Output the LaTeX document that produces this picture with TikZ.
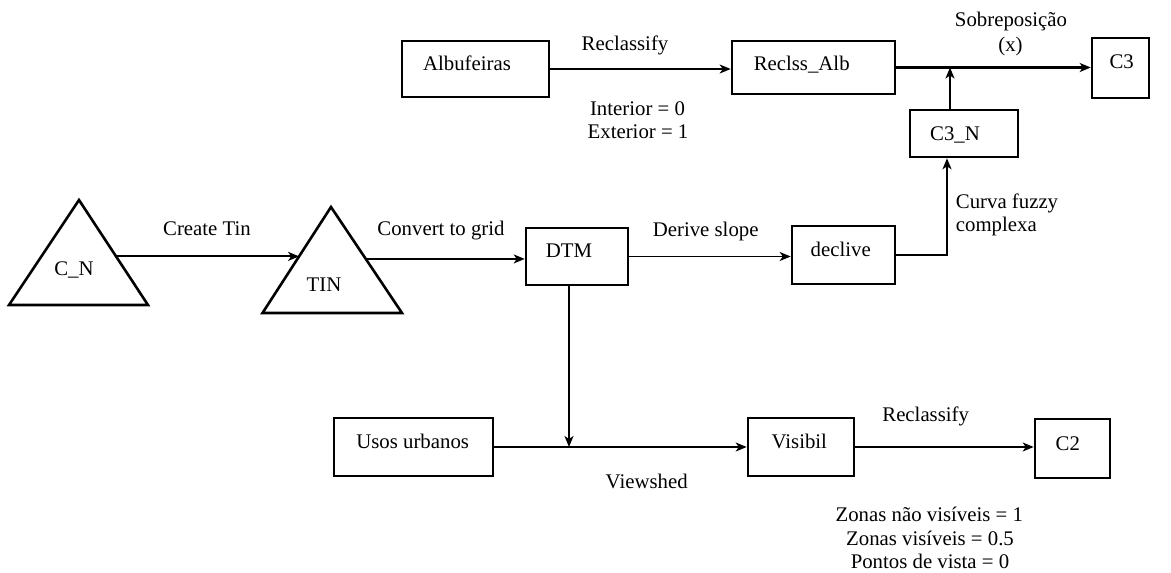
\documentclass[tikz,border=0pt]{standalone}
\usepackage{fontspec}
\setmainfont{Liberation Serif}
\usetikzlibrary{arrows.meta,calc}
\begin{document}
\begin{tikzpicture}[x=1pt,y=-1pt,
  box/.style={draw,line width=2.6pt,inner sep=0pt},
  txt/.style={font=\fontsize{20.8}{24}\selectfont,inner sep=0pt,anchor=base},
  conn/.style={line width=1.5pt,-{Stealth[length=11pt,width=9pt,inset=3pt]}},
  thickconn/.style={line width=2.2pt,-{Stealth[length=11pt,width=9pt,inset=3pt]}},
  tri/.style={draw,line width=2.6pt,line join=miter}
]
\useasboundingbox (0,0) rectangle (1171,573);

% boxes
\node[box,minimum width=147pt,minimum height=56pt] (alb) at (475.5,69) {};
\node[box,minimum width=163pt,minimum height=53pt] (rec) at (813.5,67.5) {};
\node[box,minimum width=57pt,minimum height=60pt] (c3) at (1120.5,68) {};
\node[box,minimum width=108pt,minimum height=47pt] (c3n) at (964,133.5) {};
\node[box,minimum width=102pt,minimum height=57pt] (dtm) at (577,256.5) {};
\node[box,minimum width=103pt,minimum height=58pt] (decl) at (843.5,255) {};
\node[box,minimum width=159pt,minimum height=58pt] (usos) at (413.5,447) {};
\node[box,minimum width=106pt,minimum height=58pt] (vis) at (801,447) {};
\node[box,minimum width=75pt,minimum height=59pt] (c2) at (1072.5,448.5) {};

% triangles
\coordinate (cnA) at (79,200);
\coordinate (cnL) at (9,305);
\coordinate (cnR) at (148,305);
\draw[tri] (cnA) -- (cnR) -- (cnL) -- cycle;
\coordinate (tinA) at (331,207);
\coordinate (tinL) at (262.5,313);
\coordinate (tinR) at (402,313);
\draw[tri] (tinA) -- (tinR) -- (tinL) -- cycle;

% box texts
\node[txt] (talb) at (467,70.7) {Albufeiras};
\node[txt] (trec) at (801.7,70.7) {Reclss\_Alb};
\node[txt] (tc3) at (1121.7,68.3) {C3};
\node[txt] (tc3n) at (955,140) {C3\_N};
\node[txt] (tdtm) at (569,257.7) {DTM};
\node[txt] (tdecl) at (840.7,256) {declive};
\node[txt] (tusos) at (412.7,448.3) {Usos urbanos};
\node[txt] (tvis) at (799.3,448.3) {Visibil};
\node[txt] (tc2) at (1067.8,450) {C2};
\node[txt] (tcn) at (74,275) {C\_N};
\node[txt] (ttin) at (324,291) {TIN};

% connector labels
\node[txt] (lrec1) at (625,50) {Reclassify};
\node[txt] (lint) at (637.5,115) {Interior = 0};
\node[txt] (lext) at (638,138.3) {Exterior = 1};
\node[txt] (lsob) at (1011,26.7) {Sobreposição};
\node[txt] (lx) at (1010.5,51.5) {(x)};
\node[txt,anchor=base west] (lcurva) at (955.7,208.3) {Curva fuzzy};
\node[txt,anchor=base west] (lcompl) at (955.7,231.7) {complexa};
\node[txt] (lcreate) at (207,235.7) {Create Tin};
\node[txt] (lconv) at (441,235.7) {Convert to grid};
\node[txt] (lderive) at (705.7,236.7) {Derive slope};
\node[txt] (lview) at (646.7,488.3) {Viewshed};
\node[txt] (lrec2) at (925.7,421.7) {Reclassify};
\node[txt] (lz1) at (929.3,521.7) {Zonas não visíveis = 1};
\node[txt] (lz2) at (930,545) {Zonas visíveis = 0.5};
\node[txt] (lz3) at (930,568.3) {Pontos de vista = 0};

% connectors
\coordinate (cnE) at ($(cnA)!0.537!(cnR)$);
\coordinate (tinW) at ($(tinA)!0.466!(tinL)$);
\coordinate (tinE) at ($(tinA)!0.49!(tinR)$);
\draw[thickconn] (cnE) -- (cnE -| tinW);
\draw[conn] (tinE) -- (tinE -| dtm.west);
\draw[conn] (dtm.east) -- (dtm.east -| decl.west);
\draw[conn] (alb.east) -- (alb.east -| rec.west);
\draw[thickconn] (rec.east) -- (rec.east -| c3.west);
\coordinate (j1) at (950,67.5);
\draw[thickconn] (c3n.north -| j1) -- (j1);
\draw[thickconn] (decl.east) -| ($(c3n.south)+(-17,0)$);
\coordinate (j2) at (569,447);
\draw[thickconn] (dtm.south -| j2) -- (j2);
\draw[conn] (usos.east) -- (vis.west);
\draw[conn] (vis.east) -- (vis.east -| c2.west);
\end{tikzpicture}
\end{document}
